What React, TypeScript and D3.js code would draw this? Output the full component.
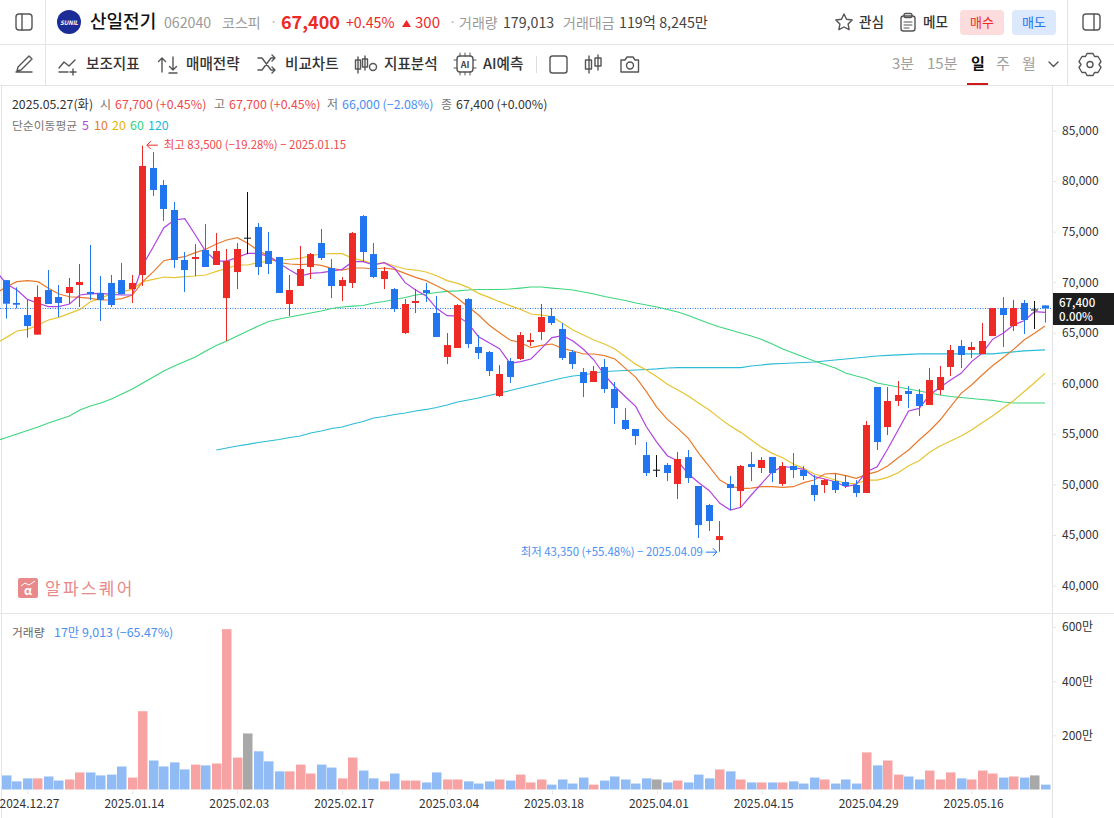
import {useEffect, useRef} from "react";
import * as d3 from "d3"

const FONT = "'Noto Sans CJK KR', 'Noto Sans', sans-serif"
const RED = "#ee2a26"
const BLUE = "#2175ee"

// 일봉 (i = 0 .. 99)
const opens = [70200,67940,66750,64810,69220,68530,68930,69720,69030,68930,69920,70210,69320,70710,81290,79610,77140,72190,72290,73180,71700,68430,71000,74400,75460,73080,72490,67840,69620,71500,73870,71400,69620,69920,76540,72780,70310,69320,64970,67940,69220,66950,62600,63490,68330,63590,63090,58740,62200,62400,64080,65070,66650,65370,63090,61110,60125,61610,59430,56370,55480,52900,51450,51920,50040,52700,49840,47960,44500,50040,49340,52010,51620,52710,50040,51820,51420,49940,49940,50330,50230,49940,49150,59630,55670,58250,59235,58940,57850,59330,61610,63690,63290,62890,64670,67440,65660,67940,67300,67700]
const closes = [67870,67770,65660,68530,67840,67940,69520,70020,68800,68240,67740,68800,69920,81490,79120,77240,72190,71200,72490,71500,73080,72090,73280,74400,71500,71800,68930,69220,71300,72780,72390,69620,70210,74860,72980,70510,71100,67340,67840,68140,68930,64580,63780,67740,63880,62990,61210,60920,60620,64770,64280,66555,65960,62500,61900,60030,61210,59430,57550,55480,54780,51125,51450,51125,52510,50630,45980,46380,44890,49640,51820,51720,52410,51125,51820,51420,50830,48950,50430,49440,49840,49150,55870,54190,58250,58840,58940,57750,60320,60620,63290,62800,63590,64180,67440,66750,67440,66260,67300,67400]
const highs = [70210,69490,68240,69690,71200,69720,70410,71800,73680,70610,70710,71900,70710,83500,82870,80100,77930,72980,73770,75750,74860,73280,73870,78920,75850,74960,72490,70710,73580,72880,75260,72290,70510,74960,76640,73870,71500,69420,68330,69320,69920,68630,64970,67840,68430,64770,63190,61800,62500,65070,64970,67840,67445,65960,63290,61510,61710,62400,60125,57550,55480,54190,52900,52110,53200,53400,49840,48060,46380,50830,51920,53200,52700,52710,52210,53100,51810,50925,50530,51025,50925,50430,56270,59630,59630,60225,59730,59430,61510,61710,63785,64280,64080,65960,67440,68530,68240,68240,68140,67700]
const lows = [66390,67410,64510,64810,67840,66550,67840,67540,68240,66160,67540,68800,67940,69620,78520,76050,71400,69030,70610,71500,71700,64180,69320,72780,70710,70810,68930,66650,69620,70310,72190,68430,68140,69420,71990,70410,69320,67050,64870,66950,68040,64580,61900,63490,63490,62400,60720,58640,60030,62300,63680,64280,65760,62300,61410,58640,60125,59040,55970,55380,53900,50830,50730,50330,48550,50135,44700,45390,43350,47460,47760,50330,51125,50230,49840,50630,50430,48350,49150,49150,49640,48750,49150,53400,54880,57750,57550,56760,57850,58840,60720,61510,62500,62890,64670,63590,65170,64870,65370,66000]

// 거래량 (만)
const volumes = [52,30,41,41,48,33,37,63,63,52,55,85,44,289,107,85,100,74,92,89,96,592,118,207,141,104,67,67,92,59,92,81,41,118,70,41,30,59,33,33,26,63,37,37,30,22,30,37,33,55,26,37,18,37,22,44,18,33,48,37,22,41,37,26,33,26,55,41,74,67,37,26,26,26,26,30,22,44,37,22,37,22,137,89,107,55,48,37,70,37,63,41,37,70,59,44,48,44,52,18]

// 이동평균 (첫 값은 i = -1, 차트 왼쪽 밖)
const ma5 = [71100,69820,69220,68300,67910,67580,67580,67840,68730,68860,68900,68800,68730,68730,71700,73510,75390,76150,76280,74660,73020,72090,72090,72450,72850,72850,72520,71860,71200,70610,70870,70940,71100,71270,72030,72030,71700,71930,71370,69950,69220,68630,67410,66690,66650,65930,64610,64015,63420,61970,62140,62400,63455,64510,64710,64180,63360,62300,60820,59660,58670,57685,55700,54160,52840,52310,51025,50170,49380,48125,47460,47730,48950,50100,51255,51750,51670,51485,50760,50530,50265,49770,50000,51255,51750,53500,55380,57260,57520,58840,59600,60320,60980,62140,62960,64345,64940,65760,66190,67080,67015]
const ma10 = [68895,69550,70050,70150,70050,69390,68830,68560,68500,68400,68235,68235,68370,68730,70050,71040,72125,72355,72520,72920,73250,73775,74170,74400,73840,73115,72600,71925,71795,71730,71795,71665,71370,71200,71400,71400,71300,71400,71270,70870,70475,70150,69650,69125,68400,67575,66750,65760,65005,64280,64015,63520,63750,63885,63455,63190,62895,62895,62730,62400,61475,60585,59170,57620,56430,55540,54555,53070,51750,50430,49840,49575,49640,49770,49770,49705,49770,50170,50430,51025,51090,50860,50600,50990,51255,51815,52640,53400,54390,55310,56365,57685,59005,59830,60820,61740,62530,63355,64280,64940,65665]
const ma20 = [63950,64540,65170,65335,65760,66260,66520,66915,67310,68070,68400,68895,69060,69290,70050,70280,70510,70445,70540,70610,70710,71070,71370,71700,71700,71930,72095,72190,72260,72355,72620,72785,72820,72820,72355,72125,71795,71925,71600,71300,71200,71005,70640,70150,69885,69490,68895,68500,68070,67675,67310,66850,66750,66590,65930,65270,64775,64280,63885,63390,62630,61870,61310,60650,59895,59335,58740,58015,57355,56530,55775,55145,54390,53660,53070,52640,52015,51585,51025,50760,50430,50100,50070,50430,50430,50695,51155,51850,52345,53170,53795,54290,54785,55380,56100,56760,57520,58280,59170,60060,60980]
const ma60 = [54290,54640,54985,55330,55680,56070,56420,56765,57360,57750,58050,58445,58940,59435,60030,60620,61215,61710,62155,62600,63190,63735,64180,64675,65170,65665,66110,66360,66555,66755,66950,67150,67395,67545,67640,67690,67940,68090,68285,68485,68730,68830,68980,69080,69130,69225,69275,69275,69275,69325,69420,69520,69520,69420,69325,69225,69030,68830,68580,68385,68185,67940,67740,67545,67300,67050,66705,66310,65910,65565,65270,64970,64675,64330,63885,63390,62995,62600,62205,61855,61510,61015,60720,60450,60030,59830,59635,59435,59235,59040,58840,58695,58595,58495,58395,58300,58150,58050,58050,58050,58050]
// 120일선은 i = 20 부터
const ma120 = [53400,53600,53800,53950,54145,54290,54440,54640,54785,55080,55280,55525,55675,55970,56220,56565,56715,56910,57060,57260,57410,57605,57850,58150,58345,58545,58790,59040,59285,59535,59780,60030,60275,60520,60720,60820,61015,61165,61215,61265,61315,61365,61415,61510,61540,61540,61540,61540,61540,61540,61540,61710,61810,61910,61955,62005,62055,62105,62205,62300,62400,62500,62600,62700,62750,62800,62850,62900,62900,62900,62900,62900,62900,62900,62900,63000,63100,63200,63250,63300]

const priceTicks = [40000,45000,50000,55000,60000,65000,70000,75000,80000,85000]
const volumeTicks = [200,400,600]
const dateTickIndex = [2,12,22,32,42,52,62,72,82,92]
const dateTickLabels = ["2024.12.27","2025.01.14","2025.02.03","2025.02.17","2025.03.04","2025.03.18","2025.04.01","2025.04.15","2025.04.29","2025.05.16"]

const lastPrice = 67400
const highIndex = 13
const lowIndex = 68

const menuItems = [["보조지표",86],["매매전략",186],["비교차트",285],["지표분석",384],["AI예측",483]] as const
const periods = [["3분",892],["15분",927],["일",971],["주",996],["월",1022]] as const
const legendMa = [["5",82,"#b044e0"],["10",94,"#e87a2c"],["20",112,"#e6b400"],["60",130,"#2fd27c"],["120",148,"#22b8d8"]] as const

const plotRight = 1052

const Chart = () => {
    const gRef = useRef<SVGGElement>(null)

    useEffect(() => {
        const g = d3.select(gRef.current)
        g.selectAll("*").remove()

        const x = d3.scaleLinear().domain([0, 99]).range([6.5, 1045])
        const y = d3.scaleLinear().domain([40000, 85000]).range([585.5, 130.5])
        const yVol = d3.scaleLinear().domain([0, 600]).range([789.5, 627])
        const idx = d3.range(opens.length)

        // 기준선
        g.append("line").attr("x1", 0).attr("x2", plotRight).attr("y1", y(lastPrice)).attr("y2", y(lastPrice))
            .attr("stroke", BLUE).attr("stroke-width", 1).attr("stroke-dasharray", "1 1.5")

        // 이동평균
        const drawMa = (values: number[], start: number, color: string) => {
            const path = d3.line<number>().x((_, i) => x(i + start)).y(d => y(d))
            g.append("path").attr("d", path(values)).attr("fill", "none").attr("stroke", color).attr("stroke-width", 1.2)
        }
        drawMa(ma120, 20, "#2bbcd6")
        drawMa(ma60, -1, "#3dd67f")
        drawMa(ma20, -1, "#e6c432")
        drawMa(ma10, -1, "#e87a2c")
        drawMa(ma5, -1, "#b044e0")

        // 캔들
        const candleColor = (i: number) => closes[i] > opens[i] ? RED : closes[i] < opens[i] ? BLUE : "#111"
        const bodyX = (i: number) => Math.round(x(i) - 3.5)
        const candles = g.append("g")
        candles.selectAll("rect.wick").data(idx).join("rect").attr("class", "wick")
            .attr("x", i => bodyX(i) + 3).attr("width", 1)
            .attr("y", i => y(highs[i])).attr("height", i => y(lows[i]) - y(highs[i]))
            .attr("fill", candleColor)
        candles.selectAll("rect.body").data(idx).join("rect").attr("class", "body")
            .attr("x", bodyX).attr("width", 7)
            .attr("y", i => y(Math.max(opens[i], closes[i])))
            .attr("height", i => Math.max(1, Math.abs(y(opens[i]) - y(closes[i]))))
            .attr("fill", candleColor)

        // 거래량
        const volColor = (i: number) => closes[i] > opens[i] ? "#f8a3a3" : closes[i] < opens[i] ? "#90bbf5" : "#a8a8a8"
        g.append("g").selectAll("rect").data(idx).join("rect")
            .attr("x", i => Math.round(x(i) - 4.5)).attr("width", 9.5)
            .attr("y", i => yVol(volumes[i])).attr("height", i => yVol(0) - yVol(volumes[i]))
            .attr("fill", volColor)

        // 축
        const styleAxis = (sel: d3.Selection<SVGGElement, unknown, null, undefined>) => {
            sel.select(".domain").remove()
            sel.selectAll("line").attr("stroke", "#e6e6e6")
            sel.selectAll("text").attr("fill", "#333").style("font-family", FONT).style("font-size", "12px")
        }
        const priceAxis = d3.axisRight(y).tickValues(priceTicks).tickSize(4).tickPadding(6).tickFormat(d3.format(","))
        g.append("g").attr("transform", `translate(${plotRight},0)`).call(priceAxis).call(styleAxis)

        const volAxis = d3.axisRight(yVol).tickValues(volumeTicks).tickSize(4).tickPadding(6).tickFormat(d => `${d}만`)
        g.append("g").attr("transform", `translate(${plotRight},0)`).call(volAxis).call(styleAxis)

        const dateAxis = d3.axisBottom(x).tickValues(dateTickIndex).tickSize(4).tickPadding(5)
            .tickFormat((_, i) => dateTickLabels[i])
        const dateG = g.append("g").attr("transform", "translate(0,790.5)").call(dateAxis).call(styleAxis)
        dateG.selectAll("text").attr("dx", 1.5)

        // 최고 / 최저 표시
        const hx = x(highIndex) + 4
        const hy = y(highs[highIndex]) - 0.5
        g.append("path").attr("d", `M${hx + 11},${hy}H${hx}M${hx + 4},${hy - 4}L${hx},${hy}L${hx + 4},${hy + 4}`)
            .attr("fill", "none").attr("stroke", RED).attr("stroke-width", 1)
        g.append("text").attr("x", hx + 17).attr("y", hy + 4).attr("fill", "#f0484a")
            .style("font-family", FONT).style("font-size", "11.4px").text("최고 83,500 (−19.28%) − 2025.01.15")

        const lx = x(lowIndex) - 3
        const ly = y(lows[lowIndex]) + 0.5
        g.append("path").attr("d", `M${lx - 11},${ly}H${lx}M${lx - 4},${ly - 4}L${lx},${ly}L${lx - 4},${ly + 4}`)
            .attr("fill", "none").attr("stroke", BLUE).attr("stroke-width", 1)
        g.append("text").attr("x", lx - 14).attr("y", ly + 4).attr("text-anchor", "end").attr("fill", "#4a90f0")
            .style("font-family", FONT).style("font-size", "11.4px").text("최저 43,350 (+55.48%) − 2025.04.09")
    }, [])

    return <g ref={gRef}/>
}

const T = ({x, y, c = "#333", s = 13, w = 400, children}: any) =>
    <text x={x} y={y} fill={c} fontSize={s} fontWeight={w}>{children}</text>

const icon = {fill: "none", stroke: "#555", strokeWidth: 1.4, strokeLinecap: "round", strokeLinejoin: "round"} as const

const App = () => {
    return <div style={{position: "absolute", left: 0, top: 0, width: 1114, height: 818, background: "#fff"}}>
        <svg width={1114} height={818} style={{display: "block", fontFamily: FONT}}>
            {/* 구분선 */}
            <g stroke="#e4e4e4" strokeWidth={1}>
                <line x1={0} x2={1114} y1={44.5} y2={44.5}/>
                <line x1={0} x2={1114} y1={85.5} y2={85.5}/>
                <line x1={45.5} x2={45.5} y1={0} y2={85}/>
                <line x1={1067.5} x2={1067.5} y1={0} y2={85}/>
                <line x1={1.5} x2={1.5} y1={86} y2={818}/>
                <line x1={0} x2={1114} y1={613.5} y2={613.5}/>
                <line x1={plotRight + .5} x2={plotRight + .5} y1={86} y2={818}/>
            </g>

            {/* 상단 */}
            <rect x={16} y={14} width={16} height={16} rx={3} {...icon}/>
            <line x1={22} x2={22} y1={14} y2={30} {...icon}/>
            <circle cx={69} cy={22} r={12} fill="#1c2c96"/>
            <text x={69} y={24.5} fill="#fff" fontSize={6} fontWeight={700} fontStyle="italic" textAnchor="middle">SUNIL</text>
            <T x={90} y={28} c="#111" s={18} w={500}>산일전기</T>
            <T x={164} y={28} c="#9a9a9a" s={14.2}>062040</T>
            <T x={222} y={28} c="#9a9a9a" s={14}>코스피</T>
            <T x={270} y={27} c="#aaa" s={13}>·</T>
            <T x={281} y={29} c={RED} s={18} w={700}>67,400</T>
            <T x={346} y={28} c={RED} s={14.2}>+0.45%</T>
            <path d="M402,27h9l-4.5,-7z" fill={RED}/>
            <T x={415} y={28} c={RED} s={15}>300</T>
            <T x={449} y={27} c="#aaa" s={13}>·</T>
            <T x={459} y={28} c="#9a9a9a" s={14}>거래량</T>
            <T x={503} y={28} c="#444" s={14.2}>179,013</T>
            <T x={563} y={28} c="#9a9a9a" s={14}>거래대금</T>
            <T x={619} y={28} c="#444" s={14.3}>119억 8,245만</T>

            <path d="M844,14l2.5,5.2 5.7,.8 -4.1,4 1,5.7 -5.1,-2.7 -5.1,2.7 1,-5.7 -4.1,-4 5.7,-.8z" {...icon}/>
            <T x={859} y={27} c="#333" s={13.6} w={500}>관심</T>
            <rect x={901} y={16} width={14} height={15} rx={2.5} {...icon}/>
            <rect x={904} y={13.5} width={8} height={4} rx={1.5} {...icon}/>
            <path d="M904,22h8M904,25h8M904,28h5" {...icon} strokeWidth={1}/>
            <T x={923} y={27} c="#333" s={13.6} w={500}>메모</T>
            <rect x={960} y={10} width={44} height={25} rx={4} fill="#fcdcdc"/>
            <text x={982} y={27} fill={RED} fontSize={13} textAnchor="middle">매수</text>
            <rect x={1012} y={10} width={44} height={25} rx={4} fill="#dce8fb"/>
            <text x={1034} y={27} fill={BLUE} fontSize={13} textAnchor="middle">매도</text>
            <rect x={1083} y={14} width={17} height={16} rx={3} {...icon}/>
            <line x1={1094} x2={1094} y1={14} y2={30} {...icon}/>

            {/* 툴바 */}
            <path d="M16,72h16M18,67l11,-11 3,3 -11,11 -4,1z" {...icon}/>
            <path d="M59,68l5,-6 5,4 6,-6M59,72h9M73,69v6M70,72h6" {...icon}/>
            <path d="M162,72V58l-3.5,3.5M162,58l3.5,3.5M173,57v13l-3.5,-3.5M173,70l3.5,-3.5M169,73h8" {...icon}/>
            <path d="M258,58h4l9,12h4M258,70h4l9,-12h4M272,55l3,3 -3,3M272,67l3,3 -3,3" {...icon}/>
            <path d="M358,57v16M358,60h-2.500v9h5v-9zM365,56v14M362.500,59h5v8h-5z" {...icon}/>
            <circle cx={373} cy={67} r={3.5} {...icon}/>
            <rect x={457} y={56} width={16} height={16} rx={3} {...icon}/>
            <path d="M460,53v3M465,53v3M470,53v3M460,72v3M465,72v3M470,72v3M454,60h3M454,68h3M473,60h3M473,68h3" {...icon} strokeWidth={1}/>
            <text x={465} y={68} fill="#444" fontSize={9} fontWeight={700} textAnchor="middle">AI</text>
            {menuItems.map(([label, x]) => <T key={label} x={x} y={69} c="#333" s={14.6} w={500}>{label}</T>)}
            <line x1={536.5} x2={536.5} y1={56} y2={73} stroke="#ddd"/>
            <rect x={550} y={56} width={17} height={17} rx={2.5} {...icon}/>
            <path d="M589,56v17M585.500,60h6v9h-6zM598,55v15M595,58h6v8h-6z" {...icon}/>
            <path d="M621,60h4l2,-3h6l2,3h3.500v12h-17.500z" {...icon}/>
            <circle cx={630} cy={65.500} r={3.500} {...icon}/>
            {periods.map(([label, x]) =>
                <T key={label} x={x} y={69} c={label === "일" ? "#111" : "#a0a0a0"} s={15} w={label === "일" ? 700 : 400}>{label}</T>)}
            <rect x={967} y={83} width={21} height={2} fill="#d01818"/>
            <path d="M1049,62l4.500,4.500 4.500,-4.500" {...icon}/>
            <path d="M1087,54.500h6l1.500,3 3.500,0 3,5 -2,3 2,3 -3,5 -3.500,0 -1.500,3h-6l-1.500,-3 -3.500,0 -3,-5 2,-3 -2,-3 3,-5 3.500,0z" transform="translate(0,-1)" {...icon}/>
            <circle cx={1090} cy={64.500} r={3} {...icon}/>

            {/* 범례 */}
            <g>
                <T x={12} y={108.5} c="#333" s={12.3}>2025.05.27(화)</T>
                <T x={100} y={108.5} c="#777" s={12}>시</T>
                <T x={115} y={108.5} c="#f0484a" s={12.4}>67,700 (+0.45%)</T>
                <T x={214} y={108.5} c="#777" s={12}>고</T>
                <T x={229} y={108.5} c="#f0484a" s={12.4}>67,700 (+0.45%)</T>
                <T x={327} y={108.5} c="#777" s={12}>저</T>
                <T x={342} y={108.5} c="#4a90f0" s={12.4}>66,000 (−2.08%)</T>
                <T x={441} y={108.5} c="#777" s={12}>종</T>
                <T x={456} y={108.5} c="#333" s={12.4}>67,400 (+0.00%)</T>
                <T x={12} y={130} c="#777" s={11.8}>단순이동평균</T>
                {legendMa.map(([label, x, c]) => <T key={label} x={x} y={130} c={c} s={12.4}>{label}</T>)}
            </g>

            {/* 워터마크 */}
            <rect x={18} y={578} width={20} height={20} rx={2} fill="#e88a8a"/>
            <path d="M21,586l4,-3 4,2 6,-4" fill="none" stroke="#fff" strokeWidth={1}/>
            <text x={28} y={595} fill="#fff" fontSize={12} fontWeight={700} textAnchor="middle">α</text>
            <text x={45} y={595} fill="#e88a8a" fontSize={17} letterSpacing={2.3}>알파스퀘어</text>

            <T x={12} y={637} c="#666" s={11.8}>거래량</T>
            <T x={54} y={637} c="#4a90f0" s={12.4}>17만 9,013 (−65.47%)</T>

            <Chart/>

            {/* 현재가 */}
            <rect x={1053} y={293} width={61} height={32} fill="#1e1e1e"/>
            <text x={1059} y={306.5} fill="#fff" fontSize={11.5} fontWeight={500}>67,400</text>
            <text x={1059} y={320.5} fill="#fff" fontSize={11.5} fontWeight={500}>0.00%</text>
        </svg>
    </div>
}

export default App
